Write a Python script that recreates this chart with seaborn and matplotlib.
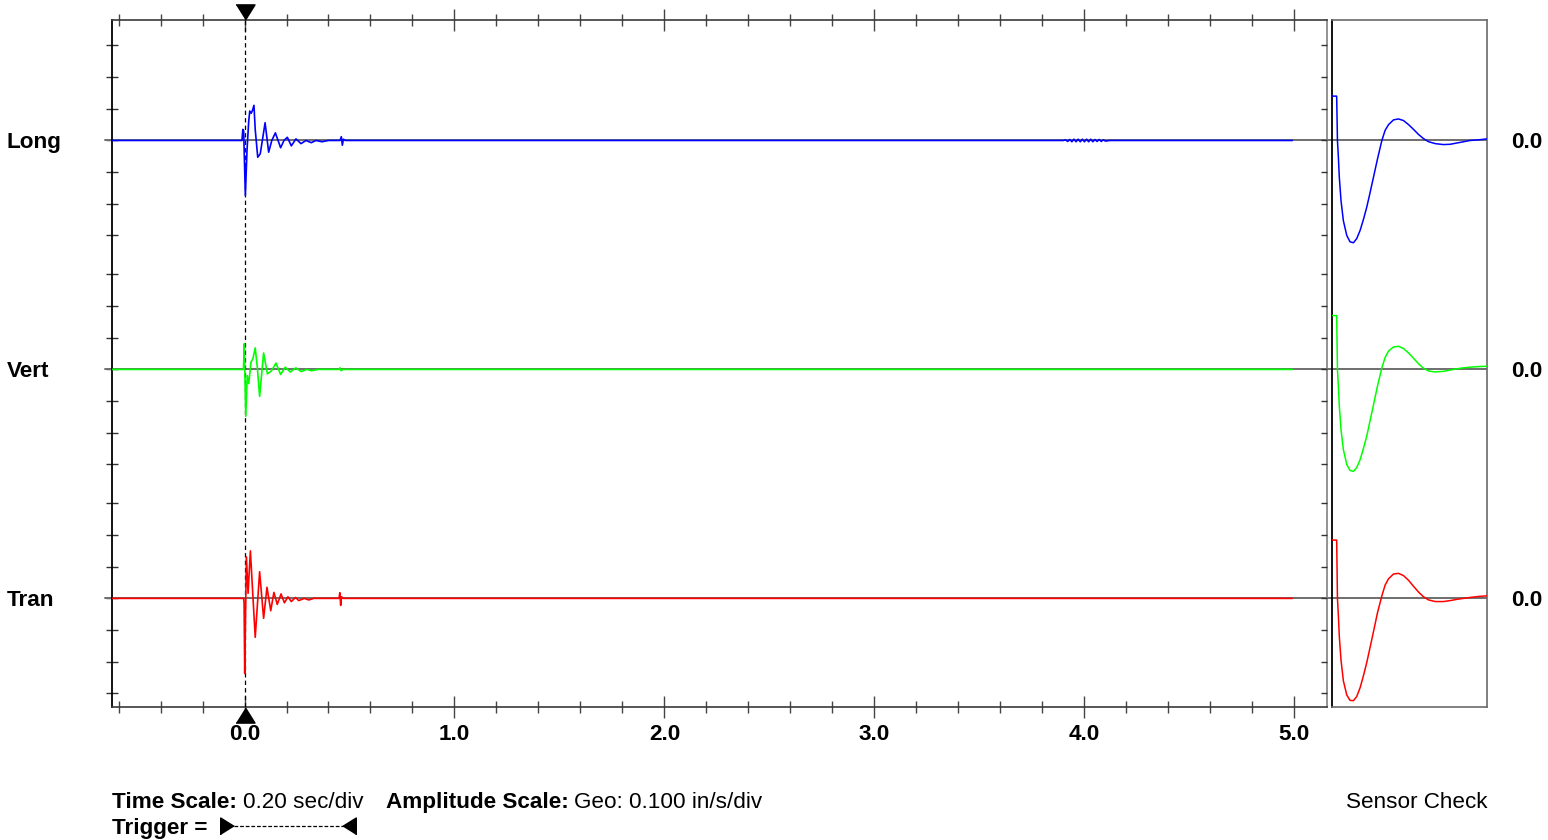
import numpy as np
import matplotlib
matplotlib.use("Agg")
import matplotlib.pyplot as plt
import seaborn as sns
from matplotlib.lines import Line2D
from matplotlib.transforms import offset_copy

# ---------------- data ----------------
channels = ["Long", "Vert", "Tran"]
colors = ["#0000ff", "#00ff00", "#ff0000"]
zero_labels = ["0.0", "0.0", "0.0"]
x_major = [0.0, 1.0, 2.0, 3.0, 4.0, 5.0]
x_labels = ["0.0", "1.0", "2.0", "3.0", "4.0", "5.0"]

# waveform points: (time s, amplitude in divisions)
long_pts = [(-0.63, 0), (-0.012, 0), (-0.008, 0.35), (-0.004, 0.30), (0.004, -1.74),
            (0.012, -0.30), (0.020, 0.60), (0.025, 0.93), (0.032, 0.86), (0.038, 0.95),
            (0.045, 1.11), (0.051, 0.35), (0.063, -0.53), (0.075, -0.42), (0.085, 0.0),
            (0.098, 0.56), (0.115, -0.37), (0.130, 0.0), (0.147, 0.24), (0.172, -0.23),
            (0.188, 0.0), (0.204, 0.10), (0.223, -0.17), (0.245, 0.05), (0.269, -0.10),
            (0.293, 0.0), (0.318, -0.07), (0.340, 0.0), (0.369, -0.04), (0.40, 0),
            (0.455, 0), (0.461, 0.12), (0.466, -0.15), (0.471, 0.04), (0.48, 0),
            (3.90, 0), (3.91, 0.02), (3.92, -0.03), (3.93, 0.03), (3.94, -0.04),
            (3.95, 0.04), (3.96, -0.04), (3.97, 0.04), (3.98, -0.04), (3.99, 0.04),
            (4.00, -0.04), (4.01, 0.04), (4.02, -0.04), (4.03, 0.04), (4.04, -0.04),
            (4.05, 0.03), (4.06, -0.03), (4.07, 0.03), (4.08, -0.03), (4.09, 0.02),
            (4.10, -0.02), (4.12, 0), (4.99, 0)]
vert_pts = [(-0.63, 0), (-0.005, 0), (-0.001, 0.81), (0.006, -1.48), (0.013, -0.19),
            (0.020, -0.45), (0.031, 0.23), (0.040, 0.34), (0.051, 0.68), (0.061, 0.07),
            (0.072, -0.85), (0.091, 0.52), (0.109, -0.14), (0.128, -0.05), (0.150, 0.20),
            (0.172, -0.16), (0.194, 0.07), (0.218, -0.08), (0.245, 0.05), (0.270, -0.07),
            (0.295, 0.0), (0.320, -0.04), (0.350, 0), (0.450, 0), (0.455, 0.05),
            (0.460, -0.04), (0.470, 0), (4.99, 0)]
tran_pts = [(-0.63, 0), (-0.004, 0), (-0.002, -0.15), (0.001, -2.37), (0.009, 1.31),
            (0.017, 0.16), (0.028, 1.50), (0.051, -1.23), (0.072, 0.84), (0.091, -0.63),
            (0.107, 0.35), (0.125, -0.39), (0.140, 0.19), (0.156, -0.19), (0.174, 0.14),
            (0.190, -0.14), (0.207, 0.05), (0.223, -0.10), (0.243, 0.03), (0.258, -0.07),
            (0.285, 0.0), (0.306, -0.05), (0.330, 0), (0.450, 0), (0.454, 0.18),
            (0.458, -0.22), (0.462, 0.05), (0.470, 0), (4.99, 0)]

# sensor check (normalised time 0..1, amplitude in divisions)
sensor_t = [0.0, 0.032, 0.037, 0.043, 0.049, 0.060, 0.075, 0.097, 0.118, 0.140,
            0.161, 0.183, 0.204, 0.226, 0.247, 0.269, 0.295, 0.323, 0.344, 0.366,
            0.398, 0.430, 0.462, 0.495, 0.527, 0.559, 0.591, 0.624, 0.667, 0.720,
            0.763, 0.806, 0.849, 0.892, 0.946, 1.0]
sensor_long = [1.40, 1.40, 0, -0.53, -1.16, -1.90, -2.53, -3.00, -3.20, -3.23,
               -3.10, -2.84, -2.50, -2.10, -1.65, -1.16, -0.58, 0, 0.32, 0.50,
               0.65, 0.68, 0.63, 0.50, 0.35, 0.19, 0.06, -0.04, -0.10, -0.13,
               -0.12, -0.08, -0.04, 0, 0.02, 0.05]
sensor_vert = [1.70, 1.70, 0, -0.53, -1.16, -1.90, -2.53, -3.00, -3.19, -3.22,
               -3.10, -2.85, -2.50, -2.10, -1.62, -1.12, -0.52, 0.05, 0.38, 0.58,
               0.71, 0.73, 0.66, 0.52, 0.35, 0.18, 0.04, -0.05, -0.08, -0.06,
               -0.02, 0.02, 0.05, 0.07, 0.09, 0.10]
sensor_tran = [1.84, 1.84, 0, -0.55, -1.20, -1.95, -2.60, -3.05, -3.22, -3.23,
               -3.10, -2.82, -2.45, -2.02, -1.55, -1.05, -0.45, 0.08, 0.42, 0.62,
               0.77, 0.79, 0.72, 0.57, 0.38, 0.20, 0.05, -0.05, -0.10, -0.10,
               -0.07, -0.03, 0.0, 0.03, 0.06, 0.08]

traces = [long_pts, vert_pts, tran_pts]
sensors = [sensor_long, sensor_vert, sensor_tran]

# ---------------- layout ----------------
W, H = 1548, 840
offsets = [14.46, 7.23, 0.0]
YLIM = (-3.43, 18.28)
XLIM = (-0.631, 5.155)

sns.set_style("white")
plt.rcParams["font.family"] = ["Liberation Sans", "DejaVu Sans"]
plt.rcParams["text.color"] = "black"
plt.rcParams["xtick.labelcolor"] = "black"
plt.rcParams["ytick.labelcolor"] = "black"
FS = 16.2

fig = plt.figure(figsize=(W / 100, H / 100), dpi=100)
L, R, T, B = 112, 1327, 19.5, 707
ax = fig.add_axes([L / W, 1 - B / H, (R - L) / W, (B - T) / H])
RL, RR = 1331.7, 1487
axr = fig.add_axes([RL / W, 1 - B / H, (RR - RL) / W, (B - T) / H])
axr.patch.set_alpha(0)

for a in (ax, axr):
    a.set_ylim(*YLIM)
ax.set_xlim(*XLIM)
axr.set_xlim(0, 1)

# baselines
for off in offsets:
    ax.axhline(off, xmin=-7 / (R - L), xmax=1 + 5 / (R - L), color="#6f6f6f",
               lw=1.4, zorder=1, clip_on=False)
    axr.axhline(off, color="#555555", lw=1.2, zorder=1)

# trigger line
ax.axvline(0, color="black", lw=0.9, ls=(0, (3.5, 2.5)), zorder=3)

# traces
for pts, off, c in zip(traces, offsets, colors):
    t = np.array([p[0] for p in pts])
    v = np.array([p[1] for p in pts]) + off
    sns.lineplot(x=t, y=v, ax=ax, color=c, lw=1.2, estimator=None, sort=False,
                 legend=False, zorder=4)

for vals, off, c in zip(sensors, offsets, colors):
    sns.lineplot(x=np.array(sensor_t), y=np.array(vals) + off, ax=axr, color=c,
                 lw=1.1, estimator=None, sort=False, legend=False, zorder=4)

# x ticks
pt = 0.72
ax.set_xticks(x_major)
ax.set_xticklabels(x_labels, fontsize=FS, fontweight="bold", color="black")
ax.set_xticks(np.round(np.arange(-0.6, 5.01, 0.2), 2), minor=True)
ax.tick_params(axis="x", which="major", top=True, bottom=True, direction="inout",
               length=23 * pt, width=1.0, color="#444444", pad=4)
ax.tick_params(axis="x", which="minor", top=True, bottom=True, direction="inout",
               length=12 * pt, width=1.0, color="#444444")
ax.set_xlabel("")
ax.set_ylabel("")

# y ticks
yt = [off + k for off in offsets for k in range(-3, 4)]
ax.set_yticks(yt)
ax.set_yticklabels([])
ax.tick_params(axis="y", which="major", left=True, right=False, direction="inout",
               length=12 * pt, width=1.0, color="#333333")
axt = ax.twinx()
axt.set_ylim(*YLIM)
axt.set_yticks(yt)
axt.set_yticklabels([])
axt.tick_params(axis="y", right=True, direction="in", length=6 * pt, width=1.0,
                color="#333333")
for s in axt.spines.values():
    s.set_visible(False)

axr.set_xticks([])
axr.set_yticks([])
axr.set_xlabel("")
axr.set_ylabel("")

# spines
ax.spines["left"].set_color("black")
ax.spines["left"].set_linewidth(1.3)
for s in ("top", "bottom"):
    ax.spines[s].set_color("#3a3a3a")
    ax.spines[s].set_linewidth(1.2)
ax.spines["right"].set_color("#808080")
ax.spines["right"].set_linewidth(1.2)
axr.spines["left"].set_color("black")
axr.spines["left"].set_linewidth(1.3)
for s in ("top", "bottom", "right"):
    axr.spines[s].set_color("#6a6a6a")
    axr.spines[s].set_linewidth(1.2)

# trigger markers on time axis
down_tri = [(-1, 0.8), (1, 0.8), (0, -0.8)]
up_tri = [(-1, -0.8), (1, -0.8), (0, 0.8)]
ms = 19 * pt
tr_top = offset_copy(ax.get_xaxis_transform(), fig=fig, y=7.6 * pt, units="points")
tr_bot = offset_copy(ax.get_xaxis_transform(), fig=fig, y=-7.6 * pt, units="points")
ax.plot([0], [1], marker=down_tri, ms=ms, color="black", transform=tr_top,
        clip_on=False, zorder=6)
ax.plot([0], [0], marker=up_tri, ms=ms, color="black", transform=tr_bot,
        clip_on=False, zorder=6)

# channel labels
for name, off, zl in zip(channels, offsets, zero_labels):
    ax.text((7 - L) / (R - L), off, name, transform=ax.get_yaxis_transform(),
            ha="left", va="center_baseline", fontsize=FS, fontweight="bold")
    axr.text(1 + (1511 - RR) / (RR - RL), off, zl, transform=axr.get_yaxis_transform(),
             ha="left", va="center_baseline", fontsize=FS, fontweight="bold")

# footer
def fx(px):
    return px / W

def fy(py):
    return 1 - py / H

fig.text(fx(112), fy(808), "Time Scale:", fontsize=FS, fontweight="bold", va="baseline")
fig.text(fx(243), fy(808), "0.20 sec/div", fontsize=FS, va="baseline")
fig.text(fx(386), fy(808), "Amplitude Scale:", fontsize=FS, fontweight="bold", va="baseline")
fig.text(fx(574), fy(808), "Geo: 0.100 in/s/div", fontsize=FS, va="baseline")
fig.text(fx(1487), fy(808), "Sensor Check", fontsize=FS, ha="right", va="baseline")
fig.text(fx(112), fy(834), "Trigger =", fontsize=FS, fontweight="bold", va="baseline")

yc = fy(826)
fig.add_artist(Line2D([fx(234), fx(343)], [yc, yc], transform=fig.transFigure,
                      color="black", lw=0.9, ls=(0, (3, 1.5))))
right_tri = [(-0.8, -1), (-0.8, 1), (0.8, 0)]
left_tri = [(0.8, -1), (0.8, 1), (-0.8, 0)]
fig.add_artist(Line2D([fx(227)], [yc], transform=fig.transFigure, marker=right_tri,
                      ms=17 * pt, color="black", lw=0))
fig.add_artist(Line2D([fx(349)], [yc], transform=fig.transFigure, marker=left_tri,
                      ms=17 * pt, color="black", lw=0))

fig.savefig("out.png", dpi=100, facecolor="white")
